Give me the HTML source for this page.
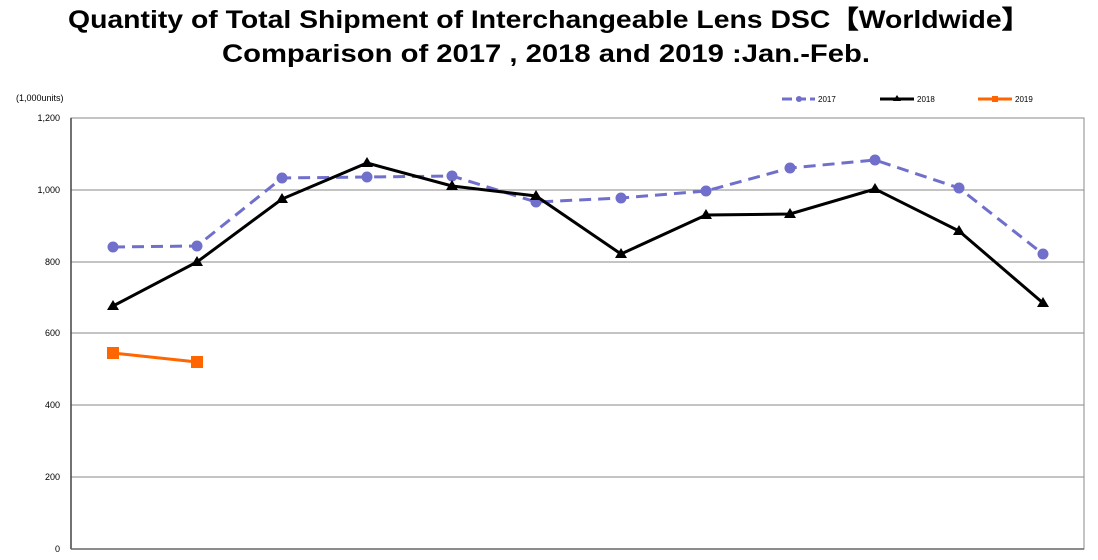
<!DOCTYPE html>
<html><head><meta charset="utf-8"><style>
body{margin:0;background:#fff;}
svg{display:block;font-family:"Liberation Sans",sans-serif;}
</style></head><body>
<svg width="1098" height="560" viewBox="0 0 1098 560" xmlns="http://www.w3.org/2000/svg">
<text x="68" y="28" font-size="25" font-weight="bold" fill="#000" textLength="962" lengthAdjust="spacingAndGlyphs">Quantity of Total Shipment of Interchangeable Lens DSC【Worldwide】</text>
<text x="222" y="62" font-size="25" font-weight="bold" fill="#000" textLength="648" lengthAdjust="spacingAndGlyphs">Comparison of 2017 , 2018 and 2019 :Jan.-Feb.</text>
<text x="16" y="101" font-size="9" fill="#000">(1,000units)</text>
<g stroke="#888" stroke-width="1">
<line x1="71" y1="190" x2="1084" y2="190"/>
<line x1="71" y1="262" x2="1084" y2="262"/>
<line x1="71" y1="333" x2="1084" y2="333"/>
<line x1="71" y1="405" x2="1084" y2="405"/>
<line x1="71" y1="477" x2="1084" y2="477"/>
</g>
<rect x="71" y="118" width="1013" height="431" fill="none" stroke="#888" stroke-width="1"/>
<line x1="71" y1="118" x2="71" y2="549" stroke="#444" stroke-width="1.5"/>
<line x1="71" y1="549" x2="1084" y2="549" stroke="#666" stroke-width="1.5"/>
<g font-size="9" text-anchor="end" fill="#000">
<text x="60" y="121">1,200</text><text x="60" y="193">1,000</text><text x="60" y="265">800</text>
<text x="60" y="336">600</text><text x="60" y="408">400</text><text x="60" y="480">200</text><text x="60" y="552">0</text>
</g>
<polyline fill="none" stroke="#7070cc" stroke-width="3" stroke-dasharray="12,7" points="113,247 197,246 282,178 367,177 452,176 536,202 621,198 706,191 790,168 875,160 959,188 1043,254"/>
<g fill="#7070cc">
<circle cx="113" cy="247" r="5.5"/><circle cx="197" cy="246" r="5.5"/><circle cx="282" cy="178" r="5.5"/><circle cx="367" cy="177" r="5.5"/><circle cx="452" cy="176" r="5.5"/><circle cx="536" cy="202" r="5.5"/><circle cx="621" cy="198" r="5.5"/><circle cx="706" cy="191" r="5.5"/><circle cx="790" cy="168" r="5.5"/><circle cx="875" cy="160" r="5.5"/><circle cx="959" cy="188" r="5.5"/><circle cx="1043" cy="254" r="5.5"/>
</g>
<polyline fill="none" stroke="#000" stroke-width="3" points="113,306 197,262 282,199 367,163 452,186 536,196 621,254 706,215 790,214 875,189 959,231 1043,303"/>
<g fill="#000">
<path d="M113,300 l6,10 h-12z"/><path d="M197,256 l6,10 h-12z"/><path d="M282,193 l6,10 h-12z"/><path d="M367,157 l6,10 h-12z"/><path d="M452,180 l6,10 h-12z"/><path d="M536,190 l6,10 h-12z"/><path d="M621,248 l6,10 h-12z"/><path d="M706,209 l6,10 h-12z"/><path d="M790,208 l6,10 h-12z"/><path d="M875,183 l6,10 h-12z"/><path d="M959,225 l6,10 h-12z"/><path d="M1043,297 l6,10 h-12z"/>
</g>
<polyline fill="none" stroke="#ff6600" stroke-width="3" points="113,353 197,362"/>
<rect x="107" y="347" width="12" height="12" fill="#ff6600"/><rect x="191" y="356" width="12" height="12" fill="#ff6600"/>
<g font-size="8" fill="#000">
<line x1="782" y1="99" x2="815" y2="99" stroke="#7070cc" stroke-width="3" stroke-dasharray="10,4"/>
<circle cx="799" cy="99" r="3" fill="#7070cc"/>
<text x="818" y="102">2017</text>
<line x1="880" y1="99" x2="914" y2="99" stroke="#000" stroke-width="3"/>
<path d="M897,95 l4,6 h-8z" fill="#000"/>
<text x="917" y="102">2018</text>
<line x1="978" y1="99" x2="1012" y2="99" stroke="#ff6600" stroke-width="3"/>
<rect x="992" y="96" width="6" height="6" fill="#ff6600"/>
<text x="1015" y="102">2019</text>
</g>
</svg>
</body></html>
